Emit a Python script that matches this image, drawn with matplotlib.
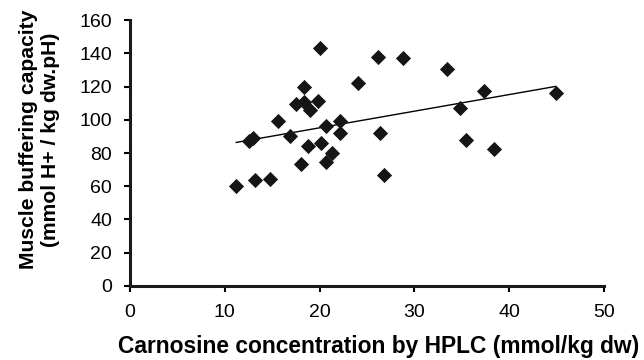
import numpy as np
import matplotlib.pyplot as plt

plt.rcParams['font.family'] = ['Liberation Sans', 'DejaVu Sans']

# carnosine (mmol/kg dw) vs buffering capacity (mmol H+ / kg dw.pH)
carnosine = [11.2, 12.6, 13.0, 13.2, 14.8, 15.6, 16.9, 18.0, 17.5, 18.3, 18.4,
             18.8, 19.0, 19.8, 20.0, 20.1, 20.7, 20.7, 21.3, 22.1, 22.2, 24.0,
             26.2, 26.4, 26.8, 28.8, 33.4, 34.8, 35.4, 37.3, 38.4, 44.9]
buffering = [60, 87, 89, 64, 64.5, 99.5, 90, 73.5, 109.5, 119.5, 110.5,
             84, 106, 111, 143, 86, 96, 74.5, 80, 99, 92, 122,
             138, 92, 66.5, 137, 130.5, 107, 88, 117.5, 82.5, 116]
xticks = [0, 10, 20, 30, 40, 50]
yticks = [0, 20, 40, 60, 80, 100, 120, 140, 160]

x = np.array(carnosine)
y = np.array(buffering)
slope, intercept = np.polyfit(x, y, 1)

fig = plt.figure(figsize=(6.44, 3.6), dpi=100)
ax = fig.add_axes([0.2019, 0.2056, 0.7360, 0.7388])

ax.scatter(x, y, marker='D', s=60, color='#151515', zorder=3, linewidths=0)
xl = np.array([x.min(), x.max()])
ax.plot(xl, slope * xl + intercept, color='black', lw=1.0, zorder=2)

ax.set_xlim(0, 50)
ax.set_ylim(0, 160)
ax.set_xticks(xticks)
ax.set_yticks(yticks)
ax.tick_params(labelsize=14, width=1.5, length=4, direction='out', pad=9)

for side in ['top', 'right']:
    ax.spines[side].set_visible(False)
for side in ['left', 'bottom']:
    ax.spines[side].set_linewidth(2.2)
    ax.spines[side].set_color('#1a1a1a')

ax.set_xlabel('Carnosine concentration by HPLC (mmol/kg dw)', fontsize=16.4,
              fontweight='bold')
ax.xaxis.set_label_coords(0.524, -0.185)
ax.set_ylabel('Muscle buffering capacity\n(mmol H+ / kg dw.pH)', fontsize=15.2,
              fontweight='bold', linespacing=1.2)
ax.yaxis.set_label_coords(-0.148, 0.55)

fig.savefig('out.png', dpi=100)
